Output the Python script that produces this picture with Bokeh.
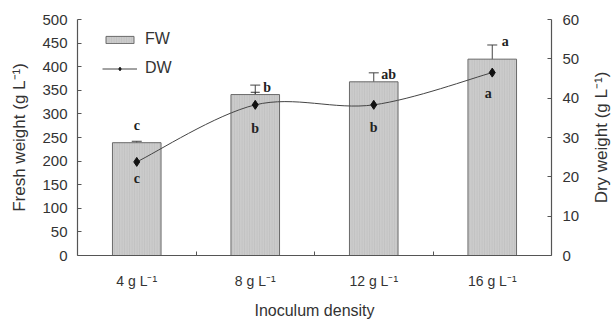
import numpy as np
from bokeh.plotting import figure
from bokeh.layouts import row
from bokeh.models import (Range1d, LinearAxis, FixedTicker, ColumnDataSource, Whisker,
                          TeeHead, Legend, LegendItem)
from bokeh.core.properties import value
from bokeh.embed import file_html
from bokeh.resources import INLINE

# ---- data ----
categories = ["4 g L⁻¹", "8 g L⁻¹", "12 g L⁻¹", "16 g L⁻¹"]
fw = [239, 341, 368, 416]
fw_err = [3, 20, 19, 30]
dw = [23.8, 38.3, 38.3, 46.5]
dw_err = [1.0, 3.2, 1.7, 1.7]
fw_letters = ["c", "b", "ab", "a"]
dw_letters = ["c", "b", "b", "a"]
right_title = "Dry weight (g L⁻¹)"

x = [i + 0.5 for i in range(len(categories))]

p = figure(width=589, height=321, output_backend="svg", toolbar_location=None,
           x_range=Range1d(0, 4), y_range=Range1d(0, 500),
           min_border_left=77, min_border_right=38, min_border_top=19, min_border_bottom=64,
           x_axis_location=None, y_axis_location=None)
p.outline_line_color = None
p.xgrid.visible = False
p.ygrid.visible = False
p.background_fill_color = "white"
p.extra_y_ranges = {"dw": Range1d(0, 60)}

FONT = "Liberation Sans"
AX = "#555555"

# axes
yl = LinearAxis(ticker=FixedTicker(ticks=list(range(0, 501, 50))),
                axis_label="Fresh weight (g L⁻¹)")
yr = LinearAxis(y_range_name="dw", ticker=FixedTicker(ticks=list(range(0, 61, 10))))
xa = LinearAxis(ticker=FixedTicker(ticks=x, minor_ticks=[1, 2, 3]),
                axis_label="Inoculum density")
xa.major_label_overrides = {v: c for v, c in zip(x, categories)}
for ax in (yl, yr, xa):
    ax.axis_line_color = AX
    ax.axis_line_width = 1.2
    ax.major_tick_line_color = AX
    ax.major_tick_in = 4
    ax.major_tick_out = 0
    ax.minor_tick_line_color = None
    ax.major_label_text_font = FONT
    ax.major_label_text_font_size = "15px"
    ax.major_label_text_color = "#333333"
    ax.axis_label_text_font = FONT
    ax.axis_label_text_font_style = "normal"
    ax.axis_label_text_font_size = "17px"
    ax.axis_label_text_color = "#333333"
yl.major_label_standoff = 10
yr.major_label_standoff = 11
yl.axis_label_standoff = 10
xa.major_tick_line_color = None
xa.minor_tick_line_color = AX
xa.minor_tick_in = 4
xa.minor_tick_out = 0
xa.major_label_standoff = 17
xa.major_label_text_font_size = "14px"
xa.axis_label_standoff = 10
xa.axis_label_text_font_size = "16px"
p.add_layout(yl, "left")
p.add_layout(yr, "right")
p.add_layout(xa, "below")

# bars
src = ColumnDataSource(dict(x=x, fw=fw, up=[a + b for a, b in zip(fw, fw_err)],
                            lo=[a - b for a, b in zip(fw, fw_err)]))
bars = p.vbar(x="x", top="fw", width=0.41, bottom=0, source=src,
              fill_color="#cbcbcb", line_color="#6a6a6a", line_width=1,
              hatch_pattern="vertical_line", hatch_color="#b9b9b9",
              hatch_scale=2.5, hatch_weight=0.6)
p.add_layout(Whisker(base="x", upper="up", lower="lo", source=src,
                     line_color="#444444", line_width=1,
                     upper_head=TeeHead(size=10, line_color="#444444", line_width=1),
                     lower_head=TeeHead(size=10, line_color="#444444", line_width=1)))

# smooth DW line (Catmull-Rom through the data points)
P = np.column_stack([x, dw])
Pext = np.vstack([P[0], P, P[-1]])
x0, y0, x1, y1, cx0, cy0, cx1, cy1 = ([] for _ in range(8))
for i in range(len(P) - 1):
    a, b, c, d = Pext[i], Pext[i + 1], Pext[i + 2], Pext[i + 3]
    c0 = b + (c - a) / 6
    c1 = c - (d - b) / 6
    x0.append(b[0]); y0.append(b[1]); x1.append(c[0]); y1.append(c[1])
    cx0.append(c0[0]); cy0.append(c0[1]); cx1.append(c1[0]); cy1.append(c1[1])
p.bezier(x0=x0, y0=y0, x1=x1, y1=y1, cx0=cx0, cy0=cy0, cx1=cx1, cy1=cy1,
         line_color="#444444", line_width=1, y_range_name="dw")

dsrc = ColumnDataSource(dict(x=x, dw=dw, up=[a + b for a, b in zip(dw, dw_err)],
                             lo=[a - b for a, b in zip(dw, dw_err)]))
p.add_layout(Whisker(base="x", upper="up", lower="lo", source=dsrc, y_range_name="dw",
                     line_color="#333333", line_width=1,
                     upper_head=TeeHead(size=9, line_color="#333333", line_width=1),
                     lower_head=TeeHead(size=9, line_color="#333333", line_width=1)))
pts = p.scatter(x="x", y="dw", source=dsrc, marker="diamond", size=9,
                fill_color="#111111", line_color="#111111", y_range_name="dw")

# significance letters
fw_dx = [0, 12, 15, 13]
fw_dy = [-16, 2, 2, -3]
p.text(x=x, y=[a + b for a, b in zip(fw, fw_err)], text=fw_letters,
       x_offset=fw_dx, y_offset=fw_dy, text_align="center", text_baseline="middle",
       text_font=value("Liberation Serif"), text_font_style="bold",
       text_font_size="14px", text_color="#222222")
dw_dx = [0, 0, 0, -4]
dw_dy = [17, 24, 23, 21]
p.text(x=x, y=dw, text=dw_letters, y_range_name="dw",
       x_offset=dw_dx, y_offset=dw_dy, text_align="center", text_baseline="middle",
       text_font=value("Liberation Serif"), text_font_style="bold",
       text_font_size="14px", text_color="#222222")

# legend (two single-row legends for exact row placement)
line_only = p.line(x=[x[0]], y=[dw[0]], line_color="#444444", line_width=1,
                   y_range_name="dw", visible=False)
common = dict(padding=0, margin=0, glyph_width=35, glyph_height=9, label_height=9,
              label_standoff=8, border_line_color=None, background_fill_alpha=0,
              label_text_font=FONT, label_text_font_size="16px",
              label_text_color="#333333")
leg_fw = Legend(items=[LegendItem(label="FW", renderers=[bars])],
                location=(25, 207), **common)
leg_dw = Legend(items=[LegendItem(label="DW", renderers=[line_only, pts])],
                location=(25, 178), **common)
p.add_layout(leg_fw)
p.add_layout(leg_dw)

# narrow strip holding the right-axis title (reads bottom-to-top, as in the original)
t = figure(width=23, height=321, output_backend="svg", toolbar_location=None,
           x_range=Range1d(0, 1), y_range=Range1d(0, 1),
           min_border_left=0, min_border_right=0, min_border_top=19, min_border_bottom=64,
           x_axis_location=None, y_axis_location=None)
t.outline_line_color = None
t.xgrid.visible = False
t.ygrid.visible = False
t.text(x=[0.5], y=[0.5], text=[right_title], angle=np.pi / 2,
       text_align="center", text_baseline="middle",
       text_font=value(FONT), text_font_size="17px", text_color="#333333")

layout = row(p, t, spacing=0)
open("out.html", "w").write(file_html(layout, INLINE))
